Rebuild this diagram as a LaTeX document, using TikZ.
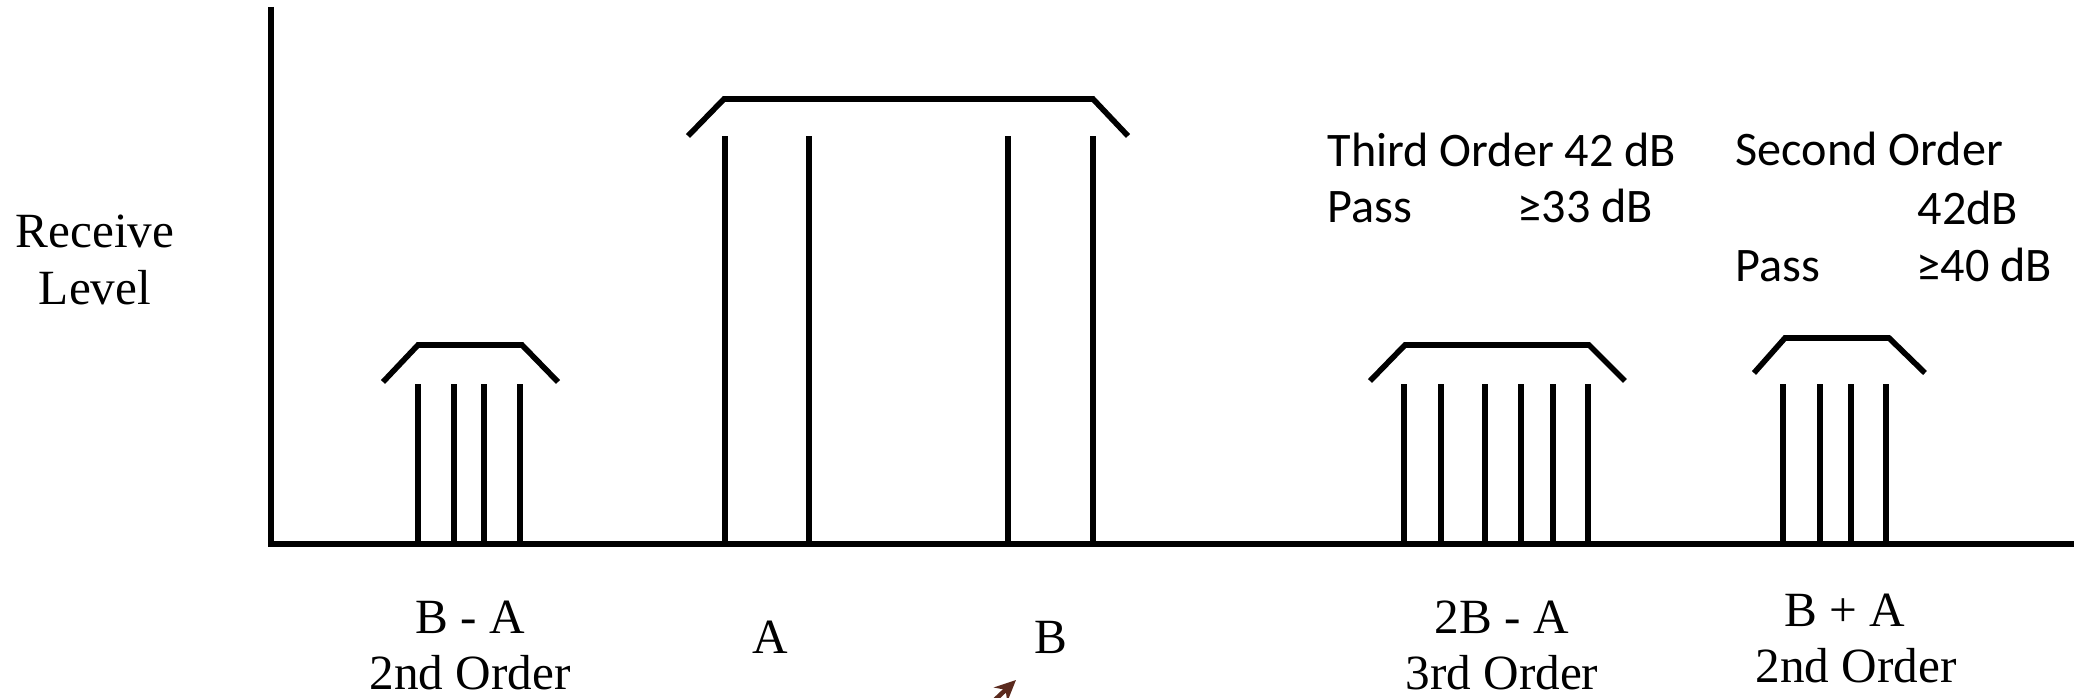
\documentclass[tikz,border=0pt]{standalone}
\usepackage{fontspec}
\setmainfont{Liberation Serif}
\newfontfamily\calibri{Carlito}
\usepackage{xcolor}
\usepackage{tikz}
\usetikzlibrary{arrows.meta}
\definecolor{arrowbrown}{HTML}{5A2A1E}

\begin{document}
\begin{tikzpicture}[x=0.01cm, y=-0.01cm,
  axis/.style={line width=1.9pt},
  tone/.style={line width=1.6pt},
  hat/.style={line width=1.6pt},
  lbl/.style={font=\fontsize{14}{16}\selectfont, inner sep=0pt, anchor=base},
  note/.style={font=\calibri\fontsize{13.7}{16}\selectfont, inner sep=0pt, anchor=base west}]
\useasboundingbox (0,0) rectangle (2074,698);
\clip (0,0) rectangle (2074,698);

% axes
\coordinate (top) at (271,7);
\coordinate (origin) at (271,544);
\coordinate (right) at (2074,544);
\draw[axis] (top) -- (origin) -- (right);
\node[lbl] (recv) at (95,248) {Receive};
\node[lbl] (lvl) at (95,305) {Level};

% B - A, 2nd order
\foreach \x in {418,454,484,520} \draw[tone] (\x,544) -- (\x,384);
\draw[hat] (383,382) -- (418,345) -- (522,345) -- (558,382);
\node[lbl] (ba) at (470,634) {B - A};
\node[lbl] (ba2) at (470,690) {2nd Order};

% carriers A and B
\foreach \x in {725,809,1008,1093} \draw[tone] (\x,544) -- (\x,136);
\draw[hat] (688,136) -- (724,99) -- (1093,99) -- (1128,136);
\node[lbl] (ca) at (770,654) {A};
\node[lbl] (cb) at (1051,654) {B};

% 2B - A, 3rd order
\foreach \x in {1404,1441,1485,1521,1553,1588} \draw[tone] (\x,544) -- (\x,384);
\draw[hat] (1370,381) -- (1405,345) -- (1589,345) -- (1625,381);
\node[lbl] (tba) at (1502,634) {2B - A};
\node[lbl] (tba3) at (1502,690) {3rd Order};

% B + A, 2nd order
\foreach \x in {1783,1820,1851,1886} \draw[tone] (\x,544) -- (\x,384);
\draw[hat] (1754,373) -- (1785,338) -- (1889,338) -- (1925,373);
\node[lbl] (bpa) at (1845,627) {B + A};
\node[lbl] (bpa2) at (1856,683) {2nd Order};

% limits
\node[note] (third) at (1327,167) {Third Order 42 dB};
\node[note] (pass3) at (1327,223) {Pass};
\node[note] (lim3) at (1517,223) {≥33 dB};
\node[note] (second) at (1735,166) {Second Order};
\node[note] (val2) at (1917,225) {42dB};
\node[note] (pass2) at (1735,282) {Pass};
\node[note] (lim2) at (1916,282) {≥40 dB};

% pointer at the bottom edge
\coordinate (tail) at (980,714);
\coordinate (tip) at (1016,680);
\draw[arrowbrown, line width=1.3pt, -{Stealth[length=6pt, width=5.5pt]}] (tail) -- (tip);
\end{tikzpicture}
\end{document}
